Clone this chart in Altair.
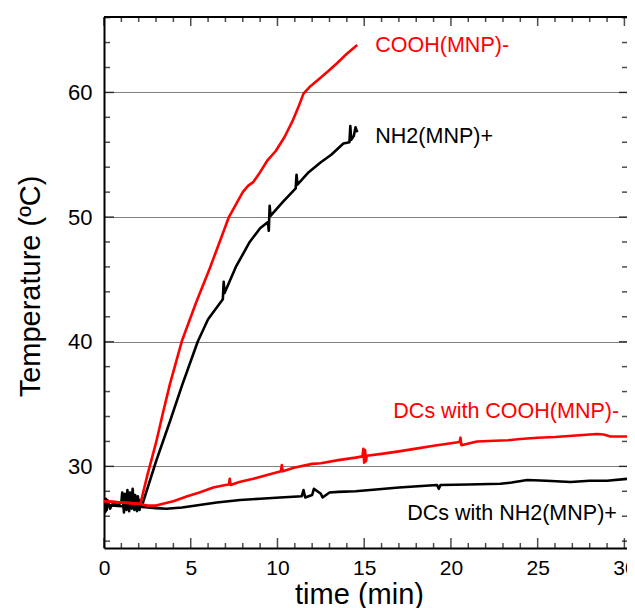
import altair as alt
import pandas as pd

# ---------------- data ----------------
cooh_t = [0.0, 0.5, 1.0, 1.5, 2.0, 2.1, 2.5, 3.0, 3.4, 3.8, 4.5, 5.3, 6.1, 6.8, 7.2, 7.6,
          8.0, 8.3, 8.6, 9.0, 9.4, 9.9, 10.4, 10.9, 11.2, 11.5, 11.9, 12.5, 13.0, 13.4, 14.0, 14.6]
cooh_T = [27.2, 27.15, 27.1, 27.05, 27.0, 27.0, 29.3, 31.9, 34.3, 36.6, 40.1, 43.1, 45.9, 48.5, 50.0, 51.0,
          52.0, 52.5, 52.8, 53.6, 54.5, 55.3, 56.4, 57.8, 58.8, 59.9, 60.5, 61.2, 61.8, 62.3, 63.1, 63.8]

nh2_t = [0.0, 0.1, 0.2, 0.35, 0.5, 0.8, 1.0, 1.05, 1.15, 1.2, 1.3, 1.35, 1.45, 1.5, 1.6, 1.65,
         1.75, 1.8, 1.9, 1.95, 2.05, 2.1, 2.2, 3.0, 3.8, 4.5, 5.4, 6.0, 6.85, 6.9, 6.95, 7.6,
         8.4, 9.0, 9.45, 9.5, 9.55, 9.6, 10.3, 11.05, 11.1, 11.15, 11.8, 12.5, 13.1, 13.8, 14.15,
         14.2, 14.25, 14.4, 14.5, 14.6]
nh2_T = [27.0, 26.4, 27.3, 26.6, 27.0, 26.9, 27.1, 27.9, 26.3, 27.8, 26.5, 28.1, 26.4, 27.9, 26.6, 28.2,
         26.5, 27.7, 26.4, 27.6, 26.5, 27.3, 26.9, 30.4, 33.6, 36.5, 40.0, 41.8, 43.4, 44.8, 43.9, 46.0,
         48.0, 49.1, 49.6, 48.9, 50.9, 50.1, 51.2, 52.3, 53.4, 52.6, 53.6, 54.4, 55.0, 55.9, 56.0,
         57.3, 56.2, 56.5, 57.2, 56.8]

dc_cooh_t = [0.0, 0.5, 1.0, 1.5, 2.0, 2.5, 3.0, 3.4, 4.0, 4.8, 5.5, 6.3, 7.0, 7.2, 7.25, 7.3,
             7.8, 8.6, 9.4, 10.2, 10.25, 10.3, 11.0, 12.0, 12.5, 13.5, 14.5, 14.9, 14.95, 15.0,
             15.05, 15.1, 15.15, 16.0, 17.0, 17.9, 19.0, 20.5, 20.55, 20.6, 21.5, 22.5, 23.3, 24.0,
             25.0, 26.0, 27.0, 28.4, 28.8, 29.2, 30.0, 30.55]
dc_cooh_T = [27.2, 27.15, 27.1, 27.05, 27.0, 26.85, 26.85, 27.0, 27.2, 27.6, 27.9, 28.3, 28.5, 28.55, 29.0, 28.5,
             28.75, 29.0, 29.3, 29.6, 30.1, 29.6, 29.9, 30.2, 30.25, 30.5, 30.7, 30.8, 31.4, 30.3,
             31.3, 30.4, 30.85, 31.0, 31.2, 31.4, 31.65, 31.95, 32.3, 31.7, 32.0, 32.05, 32.1, 32.2,
             32.3, 32.35, 32.45, 32.6, 32.55, 32.4, 32.4, 32.4]

dc_nh2_t = [0.0, 0.05, 0.1, 0.15, 0.2, 0.6, 1.0, 1.5, 2.2, 3.0, 3.6, 4.5, 5.5, 6.5, 7.85, 9.0,
            10.15, 11.4, 11.5, 11.6, 12.0, 12.1, 12.5, 12.6, 13.0, 13.5, 14.5, 15.35, 17.0, 19.2,
            19.3, 19.4, 21.0, 22.85, 23.5, 24.4, 25.5, 26.9, 28.0, 29.0, 30.15, 30.55]
dc_nh2_T = [26.9, 26.3, 27.4, 26.5, 26.9, 26.85, 26.8, 26.8, 26.75, 26.65, 26.6, 26.7, 26.9, 27.1, 27.3, 27.4,
            27.5, 27.6, 28.1, 27.5, 27.7, 28.2, 27.8, 27.5, 27.9, 27.95, 28.0, 28.1, 28.3, 28.5,
            28.2, 28.5, 28.55, 28.6, 28.7, 28.9, 28.85, 28.75, 28.85, 28.85, 29.0, 29.0]

ann_text = ["COOH(MNP)-", "NH2(MNP)+", "DCs with COOH(MNP)-", "DCs with NH2(MNP)+"]
ann_x = [15.64, 15.64, 16.68, 17.48]
ann_y = [63.26, 55.95, 33.86, 25.66]
ann_color = ["red", "black", "red", "black"]

x_major = [0, 5, 10, 15, 20, 25, 30]
x_minor = [1, 2, 3, 4, 6, 7, 8, 9, 11, 12, 13, 14, 16, 17, 18, 19, 21, 22, 23, 24, 26, 27, 28, 29]
y_major = [30, 40, 50, 60]
y_minor = [24, 26, 28, 32, 34, 36, 38, 42, 44, 46, 48, 52, 54, 56, 58, 62, 64, 66]

X_DOMAIN = [0, 30.15]
Y_DOMAIN = [23.45, 66.05]

# ---------------- tables ----------------
def series(name, t, T, color):
    return pd.DataFrame({"t": t, "T": T, "series": name, "color": color})

lines_df = pd.concat([
    series("DCs with NH2(MNP)+", dc_nh2_t, dc_nh2_T, "black"),
    series("NH2(MNP)+", nh2_t, nh2_T, "black"),
    series("DCs with COOH(MNP)-", dc_cooh_t, dc_cooh_T, "red"),
    series("COOH(MNP)-", cooh_t, cooh_T, "red"),
], ignore_index=True)
ann_df = pd.DataFrame({"label": ann_text, "x": ann_x, "y": ann_y, "color": ann_color})
xmaj_df = pd.DataFrame({"v": x_major})
xmin_df = pd.DataFrame({"v": x_minor})
ymaj_df = pd.DataFrame({"v": y_major})
ymin_df = pd.DataFrame({"v": y_minor})

FONT = "Liberation Sans"
xs = alt.Scale(domain=X_DOMAIN, nice=False, zero=False)
ys = alt.Scale(domain=Y_DOMAIN, nice=False, zero=False)

# one axis definition, shared by every layer so that they merge into one axis
x_axis = alt.Axis(values=x_major, title="time (min)", labelFontSize=21, labelFont=FONT,
                  labelColor="black", labelPadding=9, labelFlush=False, ticks=False, tickSize=0,
                  domainColor="black", domainWidth=2, grid=False,
                  titleFontSize=29, titleFont=FONT, titleFontWeight="normal", titleColor="black",
                  titleX=255, titleY=55, titleBaseline="alphabetic")
y_axis = alt.Axis(values=y_major, title="Temperature (ºC)", labelFontSize=22, labelFont=FONT,
                  labelColor="black", labelPadding=12, labelFlush=False, ticks=False, tickSize=0,
                  domainColor="black", domainWidth=2, grid=True, gridColor="black",
                  gridDash=[1, 1], gridWidth=1,
                  titleFontSize=29, titleFont=FONT, titleFontWeight="normal", titleColor="black",
                  titleAngle=270, titleX=-65, titleY=269, titleBaseline="alphabetic")


def line_layer(color):
    return alt.Chart(lines_df).transform_filter(alt.datum.color == color).mark_line(
        color=color, strokeWidth=2.6, strokeJoin="round", clip=True
    ).encode(
        x=alt.X("t:Q", scale=xs, axis=x_axis),
        y=alt.Y("T:Q", scale=ys, axis=y_axis),
        detail="series:N",
        order="t:Q",
    )


black_lines = line_layer("black")
red_lines = line_layer("red")

top_rule = alt.Chart(xmaj_df).mark_rule(color="black", strokeWidth=2).encode(
    y=alt.Y(datum=Y_DOMAIN[1], type="quantitative", scale=ys, axis=y_axis)
)


def hticks(df, size, at_x, offset):
    return alt.Chart(df).mark_tick(orient="horizontal", size=size, thickness=1.5,
                                   color="black", xOffset=offset).encode(
        y=alt.Y("v:Q", scale=ys, axis=y_axis),
        x=alt.X(datum=at_x, type="quantitative", scale=xs, axis=x_axis),
    )


def vticks(df, size, at_y, offset):
    return alt.Chart(df).mark_tick(orient="vertical", size=size, thickness=1.5,
                                   color="black", yOffset=offset).encode(
        x=alt.X("v:Q", scale=xs, axis=x_axis),
        y=alt.Y(datum=at_y, type="quantitative", scale=ys, axis=y_axis),
    )


tick_layers = [
    vticks(xmaj_df, 10, Y_DOMAIN[0], -5), vticks(xmin_df, 5, Y_DOMAIN[0], -2.5),
    vticks(xmaj_df, 9, Y_DOMAIN[1], 4.5), vticks(xmin_df, 5, Y_DOMAIN[1], 2.5),
    hticks(ymaj_df, 10, X_DOMAIN[0], 5), hticks(ymin_df, 6, X_DOMAIN[0], 3),
    hticks(ymaj_df, 8, X_DOMAIN[1], -4), hticks(ymin_df, 5, X_DOMAIN[1], -2.5),
]

labels = alt.Chart(ann_df).mark_text(align="left", baseline="alphabetic", font=FONT,
                                     fontSize=21.5).encode(
    x=alt.X("x:Q", scale=xs, axis=x_axis),
    y=alt.Y("y:Q", scale=ys, axis=y_axis),
    text="label:N",
    color=alt.Color("color:N", scale=None),
)

chart = alt.layer(black_lines, red_lines, top_rule, *tick_layers, labels).properties(
    width=523, height=531,
    padding={"left": 96, "top": 9, "right": 0, "bottom": 60},
    autosize=alt.AutoSizeParams(type="none"),
    background="white",
).configure_view(stroke=None)

chart.save("out.html", embed_options={"renderer": "svg", "actions": False})
